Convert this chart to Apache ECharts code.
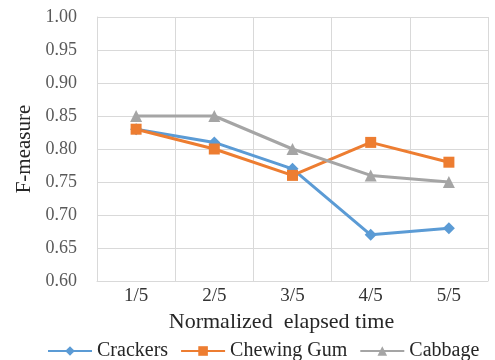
<!DOCTYPE html>
<html>
<head>
<meta charset="utf-8">
<script src="https://cdn.jsdelivr.net/npm/echarts@6/dist/echarts.min.js"></script>
<style>
html, body { margin: 0; padding: 0; background: #fff; }
#chart { width: 495px; height: 360px; }
</style>
</head>
<body>
<div id="chart"></div>
<script>
// 数据
var categories = ["1/5", "2/5", "3/5", "4/5", "5/5"];
var crackers = [0.83, 0.81, 0.77, 0.67, 0.68];
var chewingGum = [0.83, 0.80, 0.76, 0.81, 0.78];
var cabbage = [0.85, 0.85, 0.80, 0.76, 0.75];

var chart = echarts.init(document.getElementById("chart"));

var font = "'Liberation Serif', 'Times New Roman', serif";

function makeSeries(name, data, color, symbol, size) {
    return {
        name: name,
        type: "line",
        data: data,
        symbol: symbol,
        symbolSize: size,
        lineStyle: { color: color, width: 3 },
        itemStyle: { color: color },
        z: 3
    };
}

var option = {
    animation: false,
    grid: {
        left: 97,
        right: 7,
        top: 17,
        bottom: 79
    },
    legend: {
        top: 336,
        left: 42,
        itemWidth: 44,
        itemHeight: 12,
        itemGap: 12,
        textStyle: { fontFamily: font, fontSize: 20, color: "#262626" },
        data: ["Crackers", "Chewing Gum", "Cabbage"]
    },
    xAxis: {
        type: "category",
        data: categories,
        boundaryGap: true,
        name: "Normalized  elapsed time",
        nameLocation: "middle",
        nameGap: 29,
        nameTextStyle: { fontFamily: font, fontSize: 22, color: "#262626", padding: [0, 22, 0, 0] },
        axisLine: { lineStyle: { color: "#d9d9d9", width: 1 } },
        axisTick: { show: false },
        axisLabel: { fontFamily: font, fontSize: 19, color: "#333333", margin: 6 },
        splitLine: { show: true, lineStyle: { color: "#d9d9d9", width: 1 } }
    },
    yAxis: {
        type: "value",
        min: 0.6,
        max: 1.0,
        interval: 0.05,
        name: "F-measure",
        nameLocation: "middle",
        nameGap: 61,
        nameTextStyle: { fontFamily: font, fontSize: 21, color: "#262626" },
        axisLine: { show: true, lineStyle: { color: "#d9d9d9", width: 1 } },
        axisTick: { show: false },
        axisLabel: {
            fontFamily: font,
            fontSize: 18,
            color: "#595959",
            margin: 20,
            formatter: function(v) { return v.toFixed(2); }
        },
        splitLine: { show: true, lineStyle: { color: "#d9d9d9", width: 1 } }
    },
    series: [
        makeSeries("Crackers", crackers, "#5B9BD5", "diamond", 12),
        makeSeries("Chewing Gum", chewingGum, "#ED7D31", "rect", 11),
        makeSeries("Cabbage", cabbage, "#A5A5A5", "triangle", 12)
    ]
};

chart.setOption(option);
</script>
</body>
</html>
